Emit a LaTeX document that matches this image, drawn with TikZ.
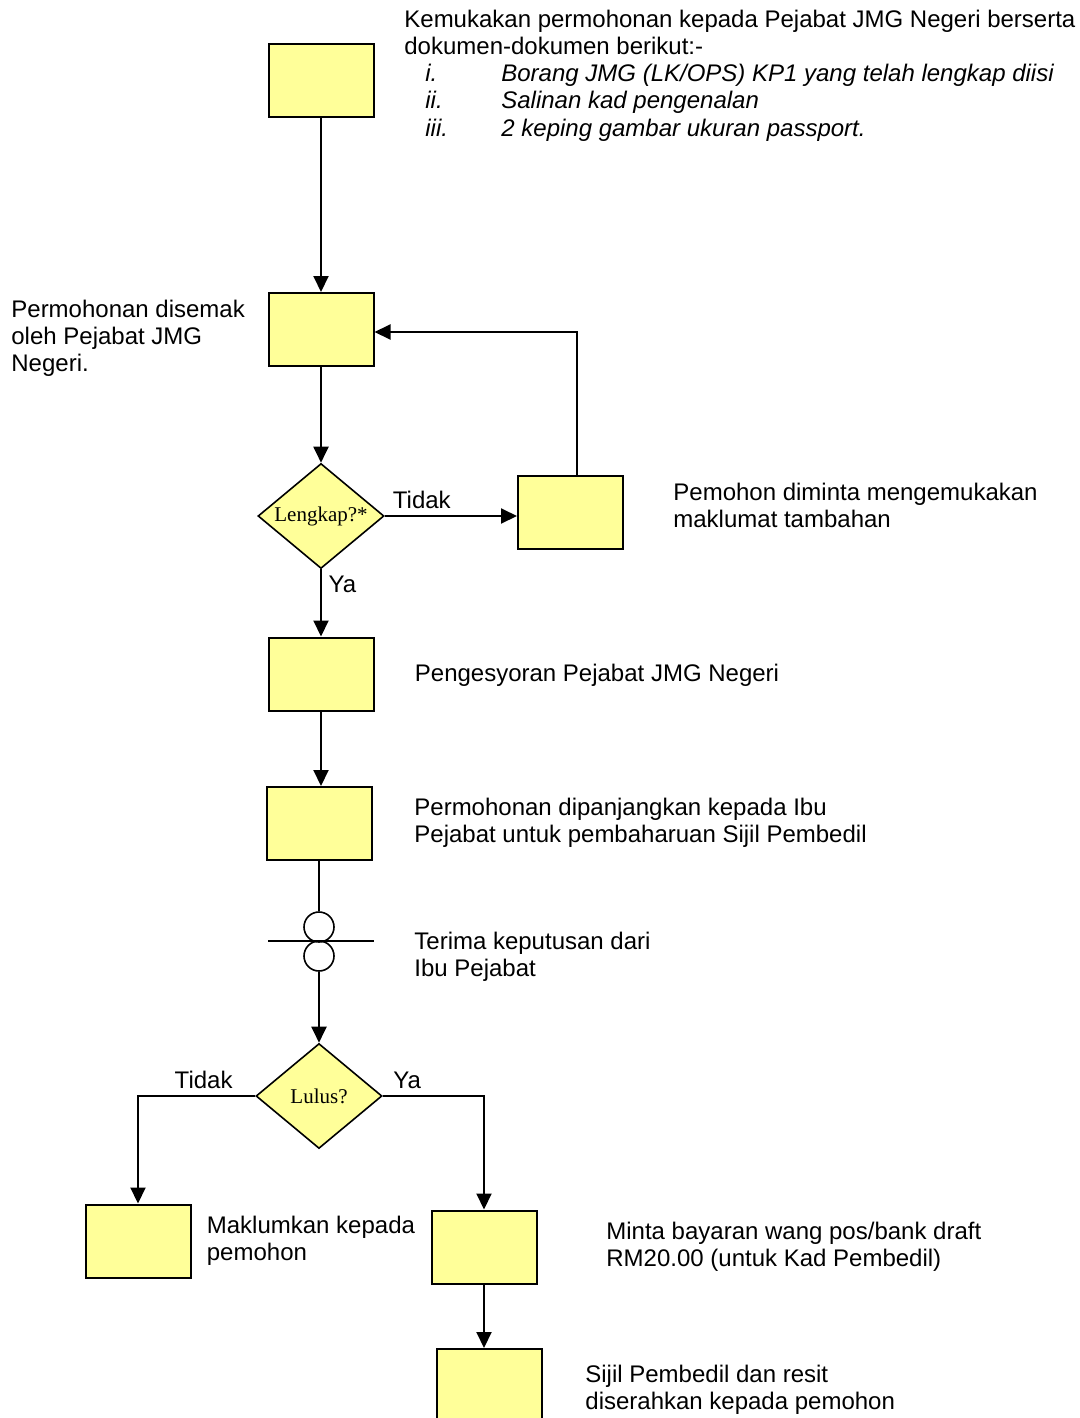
\documentclass[tikz,border=0pt]{standalone}
\usepackage{fontspec}
\setmainfont{Liberation Sans}
\newfontfamily\decfont{Liberation Serif}
\usetikzlibrary{positioning,shapes.geometric,arrows.meta}
\definecolor{boxyellow}{RGB}{255,255,153}

\begin{document}
\begin{tikzpicture}[x=0.5pt,y=-0.5pt,
    box/.style={draw, fill=boxyellow, line width=1pt, minimum width=52.5pt, minimum height=36.5pt, inner sep=0pt},
    decision/.style={draw, fill=boxyellow, diamond, aspect=1.2, line width=0.8pt, minimum width=63pt, minimum height=52.5pt, inner sep=0pt, font=\decfont\fontsize{10.5}{12}\selectfont},
    note/.style={align=left, anchor=west, inner sep=0pt, font=\fontsize{12}{13.6}\selectfont},
    link/.style={line width=1pt},
    >={Triangle[length=8pt,width=7.5pt]}]
    \useasboundingbox (0,0) rectangle (1080,1418);

    \node (submit) [box] at (321,80.5) {};
    \node (check) [box] at (321,329.5) {};
    \node (complete) [decision] at (321,516) {Lengkap?*};
    \node (moreinfo) [box] at (570.5,512) {};
    \node (recommend) [box] at (321,674) {};
    \node (forward) [box] at (319,823.5) {};
    \node (recv1) [circle, draw, line width=0.8pt, minimum size=15pt, inner sep=0pt] at (319,927) {};
    \node (recv2) [circle, draw, line width=0.8pt, minimum size=15pt, inner sep=0pt] at (319,956) {};
    \coordinate (barl) at (268,941);
    \coordinate (barr) at (374,941);
    \node (approved) [decision] at (319,1096) {Lulus?};
    \node (inform) [box] at (138,1241) {};
    \node (payment) [box] at (484,1247) {};
    \node (issue) [box] at (489,1385.5) {};
    \coordinate (loop) at (577,332);

    % texts beside the boxes
    \node (submittext) [note] at (404,75.5) {Kemukakan permohonan kepada Pejabat JMG Negeri berserta\\
        dokumen-dokumen berikut:-\\
        \hspace*{10.5pt}\makebox[38pt][l]{\itshape i.}\itshape Borang JMG (LK/OPS) KP1 yang telah lengkap diisi\\
        \hspace*{10.5pt}\makebox[38pt][l]{\itshape ii.}\itshape Salinan kad pengenalan\\
        \hspace*{10.5pt}\makebox[38pt][l]{\itshape iii.}\itshape 2 keping gambar ukuran passport.};
    \node (checktext) [note] at (11,338) {Permohonan disemak\\oleh Pejabat JMG\\Negeri.};
    \node (moreinfotext) [note] at (673,505.5) {Pemohon diminta mengemukakan\\maklumat tambahan};
    \node (recommendtext) [note, right=20pt of recommend, yshift=-0.5pt] {Pengesyoran Pejabat JMG Negeri};
    \node (forwardtext) [note] at (414,823) {Permohonan dipanjangkan kepada Ibu\\Pejabat untuk pembaharuan Sijil Pembedil};
    \node (recvtext) [note] at (414,957) {Terima keputusan dari\\Ibu Pejabat};
    \node (informtext) [note, right=7.5pt of inform] {Maklumkan kepada\\pemohon};
    \node (paymenttext) [note] at (606,1247) {Minta bayaran wang pos/bank draft\\RM20.00 (untuk Kad Pembedil)};
    \node (issuetext) [note] at (585,1390) {Sijil Pembedil dan resit\\diserahkan kepada pemohon};

    \draw[link,->] (submit) -- (check);
    \draw[link,->] (check) -- (complete);
    \draw[link,->] (complete.east) -- node[pos=0.28, above, font=\fontsize{12}{13.6}\selectfont] {Tidak} (complete.east -| moreinfo.west);
    \draw[link,->] (moreinfo.north -| loop) |- (check.east |- loop);
    \draw[link,->] (complete) -- node[pos=0.23, right, font=\fontsize{12}{13.6}\selectfont] {Ya} (recommend);
    \draw[link,->] (recommend) -- (recommend |- forward.north);
    \draw[link] (forward) -- (recv1);
    \draw[link] (barl) -- (barr);
    \draw[link,->] (recv2) -- (approved);
    \draw[link,->] (approved.west) -| node[pos=0.22, above, font=\fontsize{12}{13.6}\selectfont] {Tidak} (inform);
    \draw[link,->] (approved.east) -| node[pos=0.12, above, font=\fontsize{12}{13.6}\selectfont] {Ya} (payment);
    \draw[link,->] (payment) -- (payment |- issue.north);
\end{tikzpicture}
\end{document}
